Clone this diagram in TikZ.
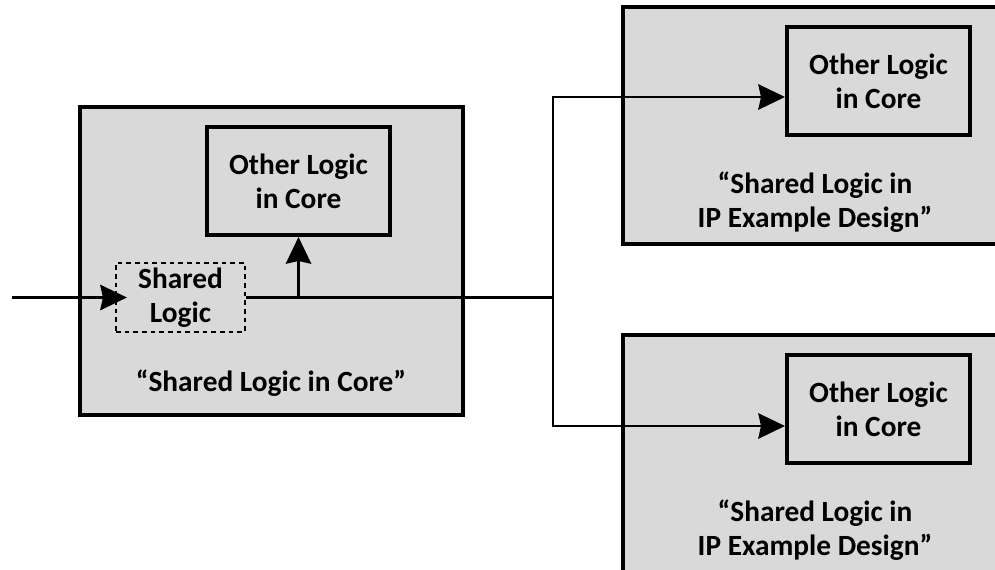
\documentclass[tikz,border=0pt]{standalone}
\usepackage{fontspec}
\setmainfont{Carlito}
\usetikzlibrary{arrows.meta,calc}
\definecolor{diagramBlock}{HTML}{D9D9D9}
\definecolor{diagramLine}{HTML}{000000}

\begin{document}
\begin{tikzpicture}[
    x=0.75pt,y=-0.75pt,>=Stealth,
    every node/.style={font=\fontsize{22}{25.5}\selectfont\bfseries,align=center},
    core/.style={draw=diagramLine,fill=diagramBlock,line width=3pt,minimum width=287.25pt,inner sep=0pt},
    logic/.style={draw=diagramLine,fill=diagramBlock,line width=3pt,minimum width=137.25pt,minimum height=81pt,inner sep=0pt},
    shared/.style={draw=diagramLine,fill=diagramBlock,line width=1.6pt,dash pattern=on 3.5pt off 3pt,minimum width=96.75pt,minimum height=51.75pt,inner sep=0pt},
    wire/.style={draw=diagramLine,line width=2pt},
    flow/.style={-{Stealth[length=20pt,width=19pt,inset=2pt]},draw=diagramLine,line width=2pt}
]
\clip (0,0) rectangle (995,569);
\fill[white] (0,0) rectangle (995,569);
% blocks
\node[core,minimum height=231pt] (coreL) at (271.5,261) {};
\node[core,minimum width=288pt,minimum height=177.75pt] (exA) at (815,125.5) {};
\node[core,minimum width=288pt,minimum height=180pt] (exB) at (815,455) {};
\node[logic] (otherL) at (298.5,181) {Other Logic\\in Core};
\node[logic] (otherA) at (878.5,81) {Other Logic\\in Core};
\node[logic] (otherB) at (878.5,409) {Other Logic\\in Core};
\node[shared] (shared) at (180.5,297.5) {Shared\\Logic};
% labels
\node (labelL) at (271,383) {“Shared Logic in Core”};
\node (labelA) at (815,202) {“Shared Logic in\\IP Example Design”};
\node (labelB) at (815,530) {“Shared Logic in\\IP Example Design”};
% connectors
\coordinate (input) at (12,297.5);
\coordinate (split) at (553,297.5);
\draw[flow,shorten >=-9pt] (input) -- (shared.west);
\draw[wire] (shared.east) -- (split);
\draw[flow] (otherL.south |- shared.east) -- (otherL.south);
\draw[flow] (split) |- ($(otherA.west)+(0,16)$);
\draw[flow] (split) |- ($(otherB.west)+(0,17)$);
\end{tikzpicture}
\end{document}
